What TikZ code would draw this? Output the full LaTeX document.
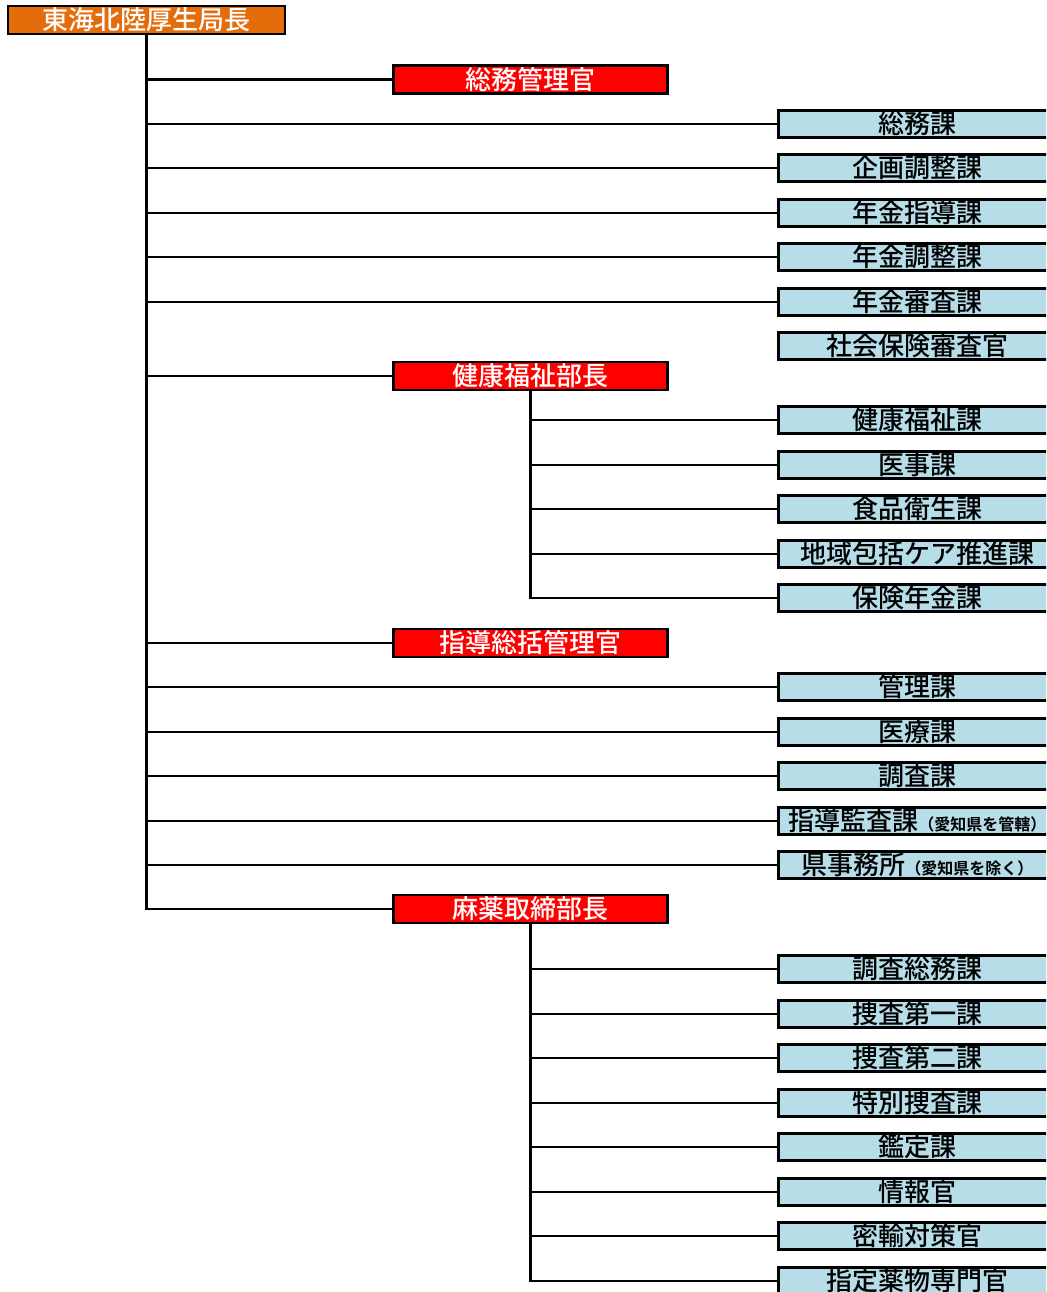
\documentclass[tikz,border=0pt]{standalone}
\usepackage{fontspec}
\newfontfamily\jpfont[UprightFont=* Medium,BoldFont=* Bold]{Noto Sans CJK JP}
\definecolor{bureau}{RGB}{228,108,10}
\definecolor{dept}{RGB}{255,0,0}
\definecolor{section}{RGB}{183,221,232}

\begin{document}
\begin{tikzpicture}
[x=1pt,y=-1pt,line width=2.8pt,
chiefbox/.style={draw,fill=bureau,text=white,minimum width=277pt,minimum height=28pt,inner sep=0pt,font=\jpfont\fontsize{26}{26}\selectfont},
deptbox/.style={draw,fill=dept,text=white,minimum width=274pt,minimum height=28pt,inner sep=0pt,font=\jpfont\fontsize{26}{26}\selectfont},
secbox/.style={draw,fill=section,anchor=west,minimum width=278pt,minimum height=27.5pt,inner sep=0pt,font=\jpfont\fontsize{26}{26}\selectfont},]

%Page size
\useasboundingbox (0,0) rectangle (1046,1292);
\clip (0,0) rectangle (1046,1292);

%Column of the sections
\def\s{777}
%Small note text
\def\note#1{{\bfseries\fontsize{16}{16}\selectfont #1}}

%Head of the bureau
\node (chief) at (146.5,20)[chiefbox] {東海北陸厚生局長};

%General affairs
\node (somukan) at (530.5,79.5)[deptbox] {総務管理官};
\node (somu) at (\s,124)[secbox] {総務課};
\node (kikaku) at (\s,168)[secbox] {企画調整課};
\node (shido) at (\s,213)[secbox] {年金指導課};
\node (chosei) at (\s,257)[secbox] {年金調整課};
\node (shinsa) at (\s,302)[secbox] {年金審査課};
\node (shakai) at (\s,346)[secbox] {社会保険審査官};

%Health and welfare
\node (kenko) at (530.5,376)[deptbox] {健康福祉部長};
\node (fukushi) at (\s,420)[secbox] {健康福祉課};
\node (iji) at (\s,465)[secbox] {医事課};
\node (shokuhin) at (\s,509)[secbox] {食品衛生課};
\node (chiiki) at (\s,554)[secbox] {地域包括ケア推進課};
\node (hoken) at (\s,598)[secbox] {保険年金課};

%Guidance and supervision
\node (sokatsu) at (530.5,643)[deptbox] {指導総括管理官};
\node (kanri) at (\s,687)[secbox] {管理課};
\node (iryo) at (\s,732)[secbox] {医療課};
\node (chosa) at (\s,776)[secbox] {調査課};
\node (kansa) at (\s,821)[secbox] {指導監査課\note{（愛知県を管轄）}};
\node (kenjim) at (\s,865)[secbox] {県事務所\note{（愛知県を除く）}};

%Narcotics control
\node (mayaku) at (530.5,909)[deptbox] {麻薬取締部長};
\node (somuka) at (\s,969)[secbox] {調査総務課};
\node (sosa1) at (\s,1014)[secbox] {捜査第一課};
\node (sosa2) at (\s,1058)[secbox] {捜査第二課};
\node (tokubetsu) at (\s,1103)[secbox] {特別捜査課};
\node (kantei) at (\s,1147)[secbox] {鑑定課};
\node (joho) at (\s,1192)[secbox] {情報官};
\node (mitsuyu) at (\s,1236)[secbox] {密輸対策官};
\node (yakubutsu) at (\s,1281)[secbox] {指定薬物専門官};

%Main trunk
\draw (chief.south) |- (mayaku.west);
\draw (chief.south |- somukan.west) -- (somukan.west);
\draw (chief.south |- somu.west) -- (somu.west);
\draw (chief.south |- kikaku.west) -- (kikaku.west);
\draw (chief.south |- shido.west) -- (shido.west);
\draw (chief.south |- chosei.west) -- (chosei.west);
\draw (chief.south |- shinsa.west) -- (shinsa.west);
\draw (chief.south |- kenko.west) -- (kenko.west);
\draw (chief.south |- sokatsu.west) -- (sokatsu.west);
\draw (chief.south |- kanri.west) -- (kanri.west);
\draw (chief.south |- iryo.west) -- (iryo.west);
\draw (chief.south |- chosa.west) -- (chosa.west);
\draw (chief.south |- kansa.west) -- (kansa.west);
\draw (chief.south |- kenjim.west) -- (kenjim.west);

%Health and welfare branch
\draw (kenko.south) |- (hoken.west);
\draw (kenko.south |- fukushi.west) -- (fukushi.west);
\draw (kenko.south |- iji.west) -- (iji.west);
\draw (kenko.south |- shokuhin.west) -- (shokuhin.west);
\draw (kenko.south |- chiiki.west) -- (chiiki.west);

%Narcotics branch
\draw (mayaku.south) |- (yakubutsu.west);
\draw (mayaku.south |- somuka.west) -- (somuka.west);
\draw (mayaku.south |- sosa1.west) -- (sosa1.west);
\draw (mayaku.south |- sosa2.west) -- (sosa2.west);
\draw (mayaku.south |- tokubetsu.west) -- (tokubetsu.west);
\draw (mayaku.south |- kantei.west) -- (kantei.west);
\draw (mayaku.south |- joho.west) -- (joho.west);
\draw (mayaku.south |- mitsuyu.west) -- (mitsuyu.west);

\end{tikzpicture}
\end{document}
